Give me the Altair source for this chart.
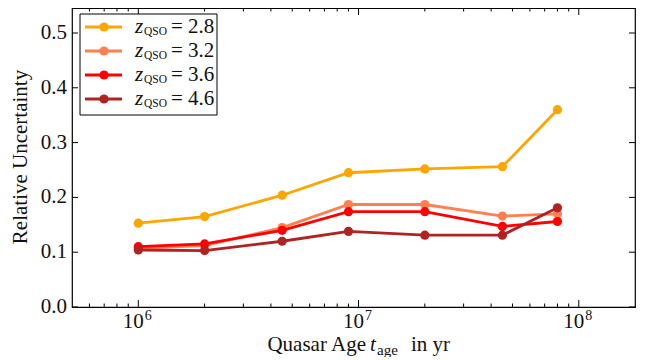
import altair as alt
import pandas as pd

# ---------------- data ----------------
ages = [1e6, 2e6, 4.5e6, 9e6, 2e7, 4.5e7, 8e7]
z_qso = ["2.8", "3.2", "3.6", "4.6"]
series_colors = ["#FFA500", "#FF7F50", "#FF0000", "#B22222"]
unc_z28 = [0.153, 0.165, 0.204, 0.245, 0.252, 0.256, 0.360]
unc_z32 = [0.107, 0.112, 0.145, 0.187, 0.187, 0.166, 0.170]
unc_z36 = [0.110, 0.115, 0.140, 0.174, 0.174, 0.147, 0.156]
unc_z46 = [0.104, 0.103, 0.120, 0.138, 0.131, 0.131, 0.181]
all_unc = [unc_z28, unc_z32, unc_z36, unc_z46]

x_major = [1e6, 1e7, 1e8]
x_exponents = ["6", "7", "8"]
x_minor = [6e5, 7e5, 8e5, 9e5,
           2e6, 3e6, 4e6, 5e6, 6e6, 7e6, 8e6, 9e6,
           2e7, 3e7, 4e7, 5e7, 6e7, 7e7, 8e7, 9e7]
y_ticks = [0.0, 0.1, 0.2, 0.3, 0.4, 0.5]
y_tick_labels = ["0.0", "0.1", "0.2", "0.3", "0.4", "0.5"]

# ---------------- layout ----------------
W, H = 563, 299
FONT = "Liberation Serif"
FS = 21
TXT = "#111111"
xscale = alt.Scale(type="log", domain=[5e5, 1.8e8])
yscale = alt.Scale(domain=[0, 0.5456])
one = pd.DataFrame({"a": [0]})

layers = []

# series
for z, col, unc in zip(z_qso, series_colors, all_unc):
    df = pd.DataFrame({"age": ages, "unc": unc})
    base = alt.Chart(df).encode(
        x=alt.X("age:Q", scale=xscale, axis=None),
        y=alt.Y("unc:Q", scale=yscale, axis=None),
    )
    layers.append(base.mark_line(color=col, strokeWidth=2.8))
    layers.append(base.mark_point(color=col, filled=True, opacity=1, size=85))

# x ticks (inward, bottom and top)
xmaj_df = pd.DataFrame({"v": x_major, "e": x_exponents})
xmin_df = pd.DataFrame({"v": x_minor})
for dfv, ln in [(xmaj_df, 7), (xmin_df, 3.5)]:
    xb = alt.Chart(dfv).encode(x=alt.X("v:Q", scale=xscale, axis=None))
    layers.append(xb.mark_rule(color="black", strokeWidth=1).encode(
        y=alt.value(H), y2=alt.value(H - ln)))
    layers.append(xb.mark_rule(color="black", strokeWidth=1).encode(
        y=alt.value(0), y2=alt.value(ln)))

# x tick labels 10^n
xl = alt.Chart(xmaj_df).encode(x=alt.X("v:Q", scale=xscale, axis=None))
layers.append(xl.mark_text(font=FONT, fontSize=FS, align="right", baseline="alphabetic",
                           dx=5.5, color=TXT).encode(y=alt.value(H + 21), text=alt.value("10")))
layers.append(xl.mark_text(font=FONT, fontSize=14, align="left", baseline="alphabetic",
                           dx=6.5, color=TXT).encode(y=alt.value(H + 13), text="e:N"))

# y ticks (inward, left and right) and labels
ydf = pd.DataFrame({"v": y_ticks, "lab": y_tick_labels})
yb = alt.Chart(ydf).encode(y=alt.Y("v:Q", scale=yscale, axis=None))
layers.append(yb.mark_rule(color="black", strokeWidth=1).encode(x=alt.value(0), x2=alt.value(6)))
layers.append(yb.mark_rule(color="black", strokeWidth=1).encode(x=alt.value(W), x2=alt.value(W - 6)))
layers.append(yb.mark_text(font=FONT, fontSize=FS, align="right", baseline="middle",
                           color=TXT).encode(x=alt.value(-5), text="lab:N"))

# axis titles
def txt(s, x, y, size=FS, align="left", style="normal", angle=0, baseline="alphabetic"):
    kw = dict(font=FONT, fontSize=size, align=align, baseline=baseline,
              fontStyle=style, color=TXT)
    if angle:
        kw["angle"] = angle
    return alt.Chart(one).mark_text(**kw).encode(
        x=alt.value(x), y=alt.value(y), text=alt.value(s))

layers.append(txt("Quasar Age", 294, H + 44, align="right"))
layers.append(txt("t", 298, H + 44, style="italic"))
layers.append(txt("age", 305, H + 48, size=15))
layers.append(txt("in yr", 339, H + 44))
layers.append(txt("Relative Uncertainty", -45, 149, align="center", angle=270))

# legend
layers.append(alt.Chart(one).mark_rect(fill="white", stroke="black", strokeWidth=1).encode(
    x=alt.value(8), x2=alt.value(145), y=alt.value(6), y2=alt.value(107)))
for i, (z, col) in enumerate(zip(z_qso, series_colors)):
    ly = 19 + 24 * i
    layers.append(alt.Chart(one).mark_rule(color=col, strokeWidth=2.8).encode(
        x=alt.value(13), x2=alt.value(50), y=alt.value(ly)))
    layers.append(alt.Chart(one).mark_point(color=col, filled=True, opacity=1, size=85).encode(
        x=alt.value(32), y=alt.value(ly)))
    layers.append(txt("z", 63, ly + 5.5, style="italic"))
    layers.append(txt("QSO", 72, ly + 8, size=11.5))
    layers.append(txt("= " + z, 99, ly + 6))

chart = alt.layer(*layers).properties(
    width=W, height=H,
    padding={"left": 64, "top": 0, "right": 10, "bottom": 50},
    autosize=alt.AutoSizeParams(type="none"),
).configure_view(stroke="black", strokeWidth=1.2)

chart.save("out.html", embed_options={"renderer": "svg", "actions": False})
